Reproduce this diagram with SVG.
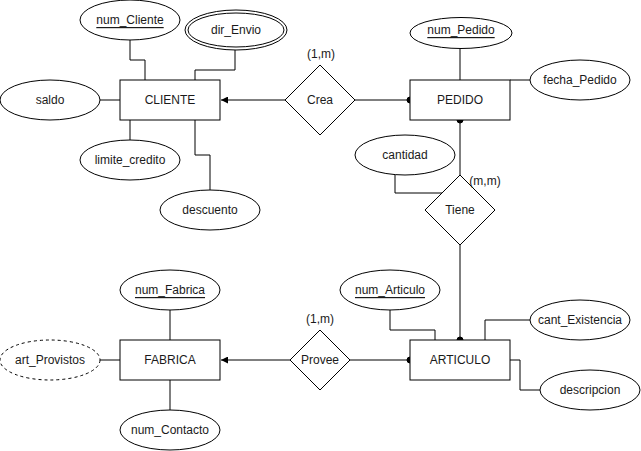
<svg xmlns="http://www.w3.org/2000/svg" width="641" height="451" viewBox="0 0 641 451">
  <style>
    .shape { fill: #ffffff; stroke: #000000; stroke-width: 1; }
    .dashed { stroke-dasharray: 3 3; }
    .link { fill: none; stroke: #000000; stroke-width: 1; }
    .dot { fill: #000000; stroke: #000000; }
    text { font-family: "Liberation Sans", Arial, sans-serif; font-size: 12px; fill: #1a1a1a; text-anchor: middle; dominant-baseline: central; }
    .key { text-decoration: underline; }
  </style>
  <defs>
    <marker id="block" viewBox="0 0 10 10" refX="10" refY="5" markerWidth="7" markerHeight="7" markerUnits="userSpaceOnUse" orient="auto">
      <path d="M0,0 L10,5 L0,10 Z" fill="#000000"/>
    </marker>
  </defs>

  <!-- connectors -->
  <g id="connectors">
    <!-- CLIENTE attributes -->
    <path class="link" d="M130,40 V60 H145 V80"/>
    <path class="link" d="M235,50 V70 H195 V80"/>
    <path class="link" d="M100,100 H120"/>
    <path class="link" d="M130,120 V140"/>
    <path class="link" d="M195,120 V155 H210 V190"/>
    <!-- Crea -->
    <path class="link" d="M285,100 H221" marker-end="url(#block)"/>
    <path class="link" d="M355,100 H410"/>
    <circle class="dot" cx="410" cy="100" r="3"/>
    <!-- PEDIDO attributes -->
    <path class="link" d="M460,49 V80"/>
    <path class="link" d="M510,80 H530"/>
    <!-- Tiene -->
    <path class="link" d="M460,120 V175"/>
    <circle class="dot" cx="460" cy="120" r="3"/>
    <path class="link" d="M460,245 V340"/>
    <circle class="dot" cx="460" cy="340" r="3"/>
    <path class="link" d="M395,175 V193 H443"/>
    <!-- ARTICULO attributes -->
    <path class="link" d="M390,310 V330 H435 V340"/>
    <path class="link" d="M530,320 H485 V340"/>
    <path class="link" d="M510,360 H520 V390 H540"/>
    <!-- Provee -->
    <path class="link" d="M290,360 H221" marker-end="url(#block)"/>
    <path class="link" d="M350,360 H410"/>
    <circle class="dot" cx="410" cy="360" r="3"/>
    <!-- FABRICA attributes -->
    <path class="link" d="M170,310 V340"/>
    <path class="link" d="M100,360 H120"/>
    <path class="link" d="M170,380 V410"/>
  </g>

  <!-- entities -->
  <g id="cliente">
    <rect class="shape" x="120" y="80" width="100" height="40"/>
    <text x="170" y="100">CLIENTE</text>
  </g>
  <g id="pedido">
    <rect class="shape" x="410" y="80" width="100" height="40"/>
    <text x="460" y="100">PEDIDO</text>
  </g>
  <g id="articulo">
    <rect class="shape" x="410" y="340" width="100" height="40"/>
    <text x="460" y="360">ARTICULO</text>
  </g>
  <g id="fabrica">
    <rect class="shape" x="120" y="340" width="100" height="40"/>
    <text x="170" y="360">FABRICA</text>
  </g>

  <!-- relationships -->
  <g id="crea">
    <polygon class="shape" points="320,65 355,100 320,135 285,100"/>
    <text x="320" y="100">Crea</text>
    <text x="321" y="54">(1,m)</text>
  </g>
  <g id="tiene">
    <polygon class="shape" points="460,175 495,210 460,245 425,210"/>
    <text x="460" y="210">Tiene</text>
    <text x="485" y="181">(m,m)</text>
  </g>
  <g id="provee">
    <polygon class="shape" points="320,330 350,360 320,390 290,360"/>
    <text x="320" y="360">Provee</text>
    <text x="320" y="319">(1,m)</text>
  </g>

  <!-- attributes -->
  <g id="num_cliente">
    <ellipse class="shape" cx="130" cy="20" rx="50" ry="20"/>
    <text class="key" x="130" y="20">num_Cliente</text>
  </g>
  <g id="dir_envio">
    <ellipse class="shape" cx="236" cy="30" rx="51" ry="20"/>
    <ellipse class="shape" cx="236" cy="30" rx="48" ry="17"/>
    <text x="236" y="30">dir_Envio</text>
  </g>
  <g id="saldo">
    <ellipse class="shape" cx="50" cy="100" rx="50" ry="20"/>
    <text x="50" y="100">saldo</text>
  </g>
  <g id="limite_credito">
    <ellipse class="shape" cx="130" cy="160" rx="50" ry="20"/>
    <text x="130" y="160">limite_credito</text>
  </g>
  <g id="descuento">
    <ellipse class="shape" cx="210" cy="210" rx="50" ry="20"/>
    <text x="210" y="210">descuento</text>
  </g>
  <g id="num_pedido">
    <ellipse class="shape" cx="461" cy="33" rx="51" ry="15.5"/>
    <text class="key" x="461" y="30">num_Pedido</text>
  </g>
  <g id="fecha_pedido">
    <ellipse class="shape" cx="580" cy="80" rx="50" ry="20"/>
    <text x="580" y="80">fecha_Pedido</text>
  </g>
  <g id="cantidad">
    <ellipse class="shape" cx="405" cy="155" rx="50" ry="20"/>
    <text x="405" y="155">cantidad</text>
  </g>
  <g id="num_articulo">
    <ellipse class="shape" cx="390" cy="290" rx="50" ry="20"/>
    <text class="key" x="390" y="290">num_Articulo</text>
  </g>
  <g id="cant_existencia">
    <ellipse class="shape" cx="580" cy="320" rx="50" ry="20"/>
    <text x="580" y="320">cant_Existencia</text>
  </g>
  <g id="descripcion">
    <ellipse class="shape" cx="590" cy="390" rx="50" ry="20"/>
    <text x="590" y="390">descripcion</text>
  </g>
  <g id="num_fabrica">
    <ellipse class="shape" cx="170" cy="290" rx="50" ry="20"/>
    <text class="key" x="170" y="290">num_Fabrica</text>
  </g>
  <g id="art_provistos">
    <ellipse class="shape dashed" cx="50" cy="360" rx="50" ry="20"/>
    <text x="50" y="360">art_Provistos</text>
  </g>
  <g id="num_contacto">
    <ellipse class="shape" cx="170" cy="430" rx="50" ry="20"/>
    <text x="170" y="430">num_Contacto</text>
  </g>
</svg>
